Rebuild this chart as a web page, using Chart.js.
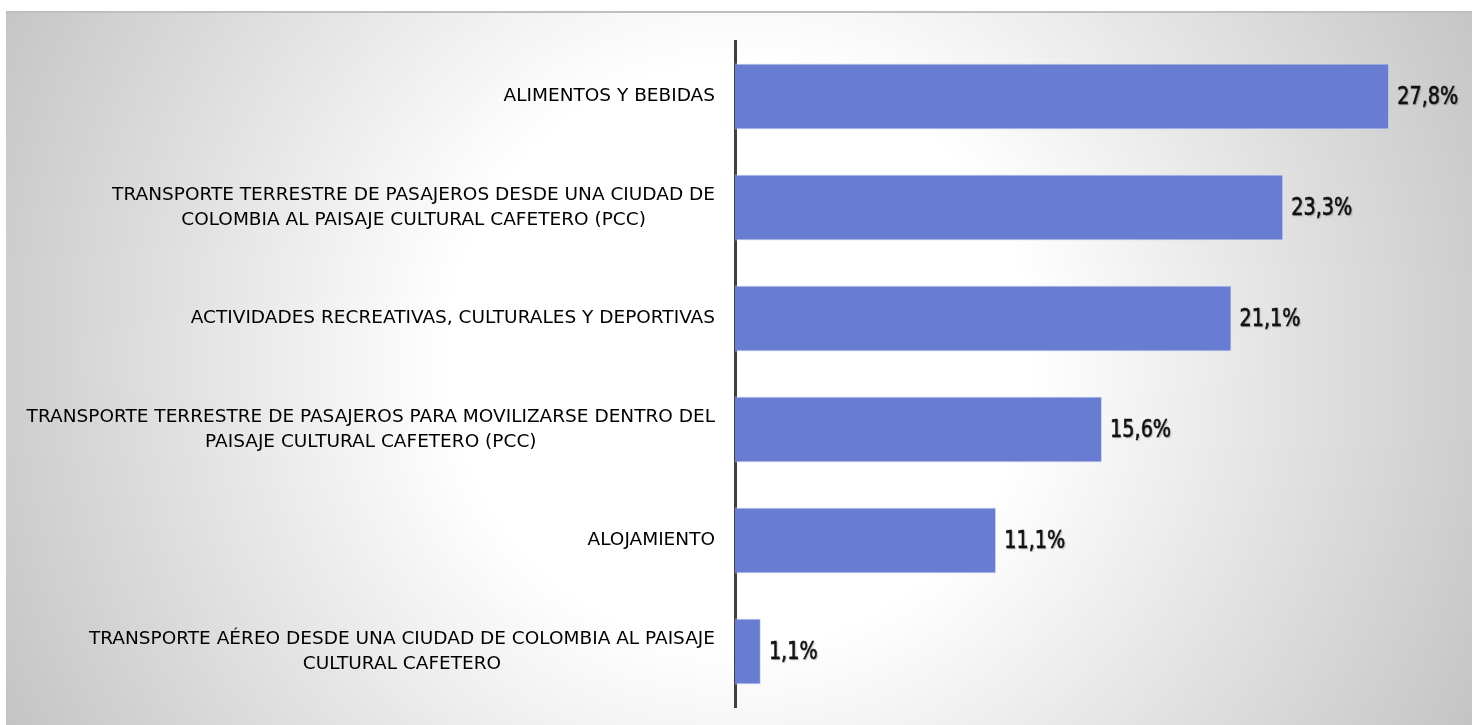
<!DOCTYPE html>
<html>
<head>
<meta charset="utf-8">
<script src="https://cdn.jsdelivr.net/npm/chart.js@4.4.0/dist/chart.umd.min.js"></script>
<style>
  html, body { margin: 0; padding: 0; background: #ffffff; }
  #wrap { position: relative; width: 1478px; height: 725px; }
  #panel {
    position: absolute; left: 6px; top: 11px; width: 1466px; height: 712px;
    border-top: 2px solid #bfbfbf;
    background: radial-gradient(circle at 50% 48%, #ffffff 0px, #ffffff 290px, #c2c2c2 840px);
  }
  #c { position: absolute; left: 0; top: 0; }
</style>
</head>
<body>
<div id="wrap">
  <div id="panel"></div>
  <canvas id="c" width="1478" height="725"></canvas>
</div>
<script>
const categories = [
  ["ALIMENTOS Y BEBIDAS"],
  ["TRANSPORTE TERRESTRE DE PASAJEROS DESDE UNA CIUDAD DE", "COLOMBIA AL PAISAJE CULTURAL CAFETERO (PCC)"],
  ["ACTIVIDADES RECREATIVAS, CULTURALES Y DEPORTIVAS"],
  ["TRANSPORTE TERRESTRE DE PASAJEROS PARA MOVILIZARSE DENTRO DEL", "PAISAJE CULTURAL CAFETERO (PCC)"],
  ["ALOJAMIENTO"],
  ["TRANSPORTE AÉREO DESDE UNA CIUDAD DE COLOMBIA AL PAISAJE", "CULTURAL CAFETERO"]
];
const values = [27.8, 23.3, 21.1, 15.6, 11.1, 1.1];
const valueLabels = ["27,8%", "23,3%", "21,1%", "15,6%", "11,1%", "1,1%"];

const labelFont = '18.5px "DejaVu Sans"';
const valueFont = '24px "DejaVu Sans"';

const customLabels = {
  id: 'customLabels',
  afterDatasetsDraw(chart) {
    const ctx = chart.ctx;
    const y = chart.scales.y;
    const meta = chart.getDatasetMeta(0);
    ctx.save();
    // category labels
    ctx.font = labelFont;
    ctx.fillStyle = '#000000';
    ctx.textBaseline = 'middle';
    ctx.textAlign = 'center';
    const rightEdge = chart.chartArea.left - 20;
    const lh = 25;
    categories.forEach((lines, i) => {
      const cy = y.getPixelForValue(i);
      let widest = 0;
      lines.forEach(l => { widest = Math.max(widest, ctx.measureText(l).width); });
      const cx = rightEdge - widest / 2;
      const startY = cy - (lines.length - 1) * lh / 2;
      lines.forEach((l, k) => ctx.fillText(l, cx, startY + k * lh));
    });
    ctx.restore();
    // value labels (slightly condensed)
    meta.data.forEach((bar, i) => {
      ctx.save();
      ctx.font = valueFont;
      ctx.textAlign = 'left';
      ctx.textBaseline = 'middle';
      ctx.shadowColor = 'rgba(0,0,0,0.35)';
      ctx.shadowOffsetX = 1;
      ctx.shadowOffsetY = 1;
      ctx.shadowBlur = 1.5;
      ctx.fillStyle = '#111111';
      ctx.strokeStyle = '#111111';
      ctx.lineWidth = 0.6;
      ctx.translate(bar.x + 8, bar.y + 1);
      ctx.scale(0.8, 1);
      ctx.fillText(valueLabels[i], 0, 0);
      ctx.shadowColor = 'rgba(0,0,0,0)';
      ctx.strokeText(valueLabels[i], 0, 0);
      ctx.restore();
    });
  }
};

new Chart(document.getElementById('c'), {
  type: 'bar',
  data: {
    labels: categories,
    datasets: [{
      data: values,
      backgroundColor: 'rgb(104,124,210)',
      borderColor: 'rgba(210,218,245,0.9)',
      borderWidth: 1,
      borderSkipped: 'left',
      categoryPercentage: 0.595,
      barPercentage: 1.0
    }]
  },
  options: {
    indexAxis: 'y',
    responsive: false,
    animation: false,
    devicePixelRatio: 1,
    layout: { padding: { left: 735, right: 37, top: 41, bottom: 18 } },
    plugins: { legend: { display: false }, tooltip: { enabled: false } },
    scales: {
      x: { display: false, min: 0, max: 30 },
      y: {
        display: true,
        ticks: { display: false },
        grid: { display: false, drawTicks: false },
        border: { display: true, color: '#404040', width: 3 }
      }
    }
  },
  plugins: [customLabels]
});
</script>
</body>
</html>
